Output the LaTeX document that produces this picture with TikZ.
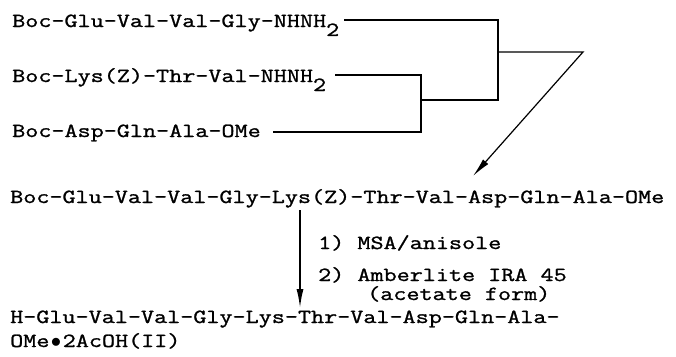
\documentclass[tikz,border=0pt]{standalone}
\usepackage{fontspec}
\newfontfamily\typewriter{Latin Modern Mono}[FakeBold=1.2, FakeStretch=1.27]
\usetikzlibrary{arrows.meta, positioning, calc}

\newcommand{\lowdigit}[1]{\raisebox{-9pt}{#1}}

\begin{document}
\begin{tikzpicture}[x=1pt, y=-1pt, >={Latex[length=19pt, width=7pt]},
    peptide/.style={anchor=base west, inner sep=0pt, align=left,
      font=\typewriter\fontsize{20}{19}\selectfont},
    link/.style={line width=1.2pt}]

  \useasboundingbox (0,0) rectangle (676,356);

  % --- Starting fragments ---
  \node[peptide] (frag1) at (12,27)  {Boc-Glu-Val-Val-Gly-NHNH\lowdigit{2}};
  \node[peptide] (frag2) at (12,82)  {Boc-Lys(Z)-Thr-Val-NHNH\lowdigit{2}};
  \node[peptide] (frag3) at (12,137) {Boc-Asp-Gln-Ala-OMe};

  % --- Coupling brackets ---
  \coordinate (join1) at (498,100);
  \coordinate (join2) at (421,132);
  \coordinate (out1) at (498,52);
  \coordinate (bend) at (583,52);
  \coordinate (merge) at (473,176);

  \draw[link] ([xshift=5pt, yshift=7pt]frag1.base east) -| (join1) -- (join1 -| join2);
  \draw[link] ([xshift=9pt, yshift=7pt]frag2.base east) -| (join2)
              -- ([xshift=12pt]frag3.base east |- join2);
  \draw[link, ->] (out1) -- (bend) -- (merge);

  % --- Protected decapeptide ---
  \node[peptide] (full) at (10,203) {Boc-Glu-Val-Val-Gly-Lys(Z)-Thr-Val-Asp-Gln-Ala-OMe};

  % --- Deprotection ---
  \coordinate (cleave top) at (300,210);
  \coordinate (cleave end) at (300,308);
  \draw[link, line width=1.6pt, ->] (cleave top) -- (cleave end);

  \node[peptide] (cond1) at (318,249) {1) MSA/anisole};
  \node[peptide] (cond2) at (318,300)
    {2) Amberlite IRA 45\\\hspace*{49pt}(acetate form)};

  % --- Free peptide salt ---
  \node[peptide] (free) at (10,347)
    {H-Glu-Val-Val-Gly-Lys-Thr-Val-Asp-Gln-Ala-\\[5pt]OMe\makebox[13.3pt]{$\bullet$}2AcOH(II)};

\end{tikzpicture}
\end{document}
